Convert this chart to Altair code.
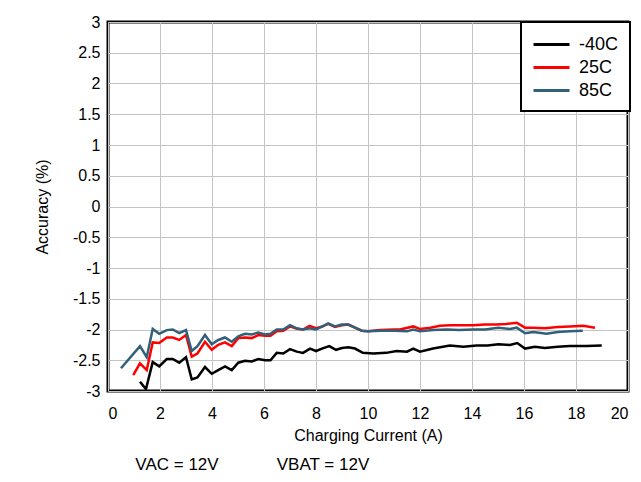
import altair as alt
import pandas as pd

# -40C series
x_m40 = [1.23, 1.46, 1.72, 1.97, 2.26, 2.49, 2.74, 3.0, 3.22, 3.44, 3.73, 3.99, 4.24, 4.5, 4.76,
         5.01, 5.27, 5.53, 5.78, 6.04, 6.25, 6.49, 6.74, 7.0, 7.26, 7.5, 7.77, 8.0, 8.23, 8.51,
         8.77, 9.0, 9.24, 9.5, 9.8, 10.2, 10.7, 11.1, 11.5, 11.74, 12.0, 12.5, 13.15, 13.67,
         14.18, 14.6, 15.01, 15.46, 15.74, 16.04, 16.42, 16.8, 17.3, 17.77, 18.41, 18.99]
y_m40 = [-2.85, -2.97, -2.53, -2.6, -2.48, -2.48, -2.54, -2.45, -2.81, -2.78, -2.61, -2.72, -2.66,
         -2.6, -2.66, -2.54, -2.51, -2.52, -2.48, -2.5, -2.5, -2.38, -2.39, -2.32, -2.36, -2.38,
         -2.31, -2.35, -2.31, -2.27, -2.33, -2.3, -2.29, -2.31, -2.38, -2.39, -2.38, -2.35, -2.36,
         -2.31, -2.36, -2.31, -2.26, -2.28, -2.26, -2.26, -2.24, -2.25, -2.22, -2.31, -2.28, -2.3,
         -2.28, -2.27, -2.27, -2.26]

# 25C series
x_25 = [0.97, 1.23, 1.49, 1.72, 1.97, 2.26, 2.49, 2.74, 3.0, 3.22, 3.44, 3.73, 3.99, 4.24, 4.5,
        4.76, 5.01, 5.27, 5.53, 5.78, 6.04, 6.25, 6.49, 6.74, 7.0, 7.26, 7.5, 7.75, 8.0, 8.25,
        8.47, 8.73, 8.99, 9.24, 9.5, 9.76, 10.0, 10.46, 11.0, 11.23, 11.74, 11.99, 12.4, 12.77,
        13.15, 13.6, 14.05, 14.5, 14.95, 15.3, 15.72, 16.04, 16.36, 16.8, 17.3, 17.77, 18.28, 18.73]
y_25 = [-2.74, -2.55, -2.66, -2.21, -2.22, -2.13, -2.13, -2.17, -2.09, -2.44, -2.39, -2.2, -2.33,
        -2.25, -2.21, -2.27, -2.14, -2.13, -2.14, -2.09, -2.1, -2.1, -2.03, -2.02, -1.95, -1.99,
        -2.0, -1.94, -1.98, -1.95, -1.91, -1.96, -1.93, -1.92, -1.97, -2.02, -2.03, -2.01, -2.0,
        -2.0, -1.95, -1.99, -1.97, -1.94, -1.93, -1.93, -1.93, -1.92, -1.92, -1.91, -1.89, -1.97,
        -1.97, -1.98, -1.96, -1.95, -1.94, -1.97]

# 85C series
x_85 = [0.5, 1.23, 1.49, 1.72, 1.97, 2.26, 2.49, 2.74, 3.0, 3.22, 3.44, 3.73, 3.99, 4.24, 4.5,
        4.76, 5.01, 5.27, 5.53, 5.78, 6.04, 6.25, 6.49, 6.74, 7.0, 7.26, 7.5, 7.75, 8.0, 8.25,
        8.47, 8.73, 8.99, 9.24, 9.5, 9.76, 10.0, 10.5, 11.04, 11.5, 11.74, 12.0, 12.5, 13.03,
        13.5, 14.05, 14.5, 15.01, 15.46, 15.72, 16.04, 16.36, 16.87, 17.3, 17.77, 18.26]
y_85 = [-2.63, -2.27, -2.45, -1.99, -2.07, -2.01, -2.0, -2.06, -2.01, -2.35, -2.27, -2.09, -2.24,
        -2.17, -2.13, -2.2, -2.11, -2.07, -2.08, -2.05, -2.08, -2.07, -2.0, -2.0, -1.93, -1.98,
        -2.0, -1.98, -2.0, -1.95, -1.9, -1.95, -1.92, -1.92, -1.97, -2.02, -2.03, -2.02, -2.02,
        -2.03, -2.0, -2.03, -2.01, -2.0, -2.01, -2.0, -2.0, -1.97, -1.99, -1.97, -2.06, -2.04,
        -2.07, -2.04, -2.03, -2.02]

series_names = ["-40C", "25C", "85C"]
series_colors = ["#000000", "#FF0000", "#31607A"]
x_ticks = list(range(0, 21, 2))
y_ticks = [-3, -2.5, -2, -1.5, -1, -0.5, 0, 0.5, 1, 1.5, 2, 2.5, 3]
note_left = "VAC = 12V"
note_right = "VBAT = 12V"

rows = []
for name, xs, ys in zip(series_names, [x_m40, x_25, x_85], [y_m40, y_25, y_85]):
    for xv, yv in zip(xs, ys):
        rows.append({"current": xv, "accuracy": yv, "series": name})
df = pd.DataFrame(rows)

FONT = "Liberation Sans"

lines = alt.Chart(df).mark_line(strokeWidth=2.5, clip=True).encode(
    x=alt.X("current:Q", scale=alt.Scale(domain=[0, 20], nice=False),
            axis=alt.Axis(values=x_ticks, title="Charging Current (A)", grid=True,
                          ticks=False, domain=False, labelPadding=14, titlePadding=6,
                          labelExpr="'' + datum.value")),
    y=alt.Y("accuracy:Q", scale=alt.Scale(domain=[-3, 3], nice=False),
            axis=alt.Axis(values=y_ticks, title="Accuracy (%)", grid=True,
                          ticks=False, domain=False, labelPadding=8, titlePadding=22,
                          labelExpr="'' + datum.value")),
    color=alt.Color("series:N",
                    scale=alt.Scale(domain=series_names, range=series_colors),
                    legend=alt.Legend(title=None, orient="none", legendX=413, legendY=0,
                                      symbolType="M-1,0H2.6", symbolSize=400,
                                      symbolStrokeWidth=3, labelFontSize=18,
                                      labelFont=FONT, labelOffset=24, padding=11,
                                      rowPadding=2, fillColor="white",
                                      strokeColor="black", labelLimit=200)),
)

note1 = alt.Chart(pd.DataFrame({"t": [note_left]})).mark_text(
    fontSize=17, font=FONT, align="center", baseline="alphabetic", color="black"
).encode(text="t:N", x=alt.value(69), y=alt.value(448))

note2 = alt.Chart(pd.DataFrame({"t": [note_right]})).mark_text(
    fontSize=17, font=FONT, align="center", baseline="alphabetic", color="black"
).encode(text="t:N", x=alt.value(215), y=alt.value(448))

chart = alt.layer(lines, note1, note2).properties(
    width=520, height=369,
    autosize=alt.AutoSizeParams(type="none"),
    padding={"left": 100, "top": 14, "right": 5, "bottom": 83},
).configure_view(
    stroke="black", strokeWidth=3
).configure_axis(
    labelFont=FONT, titleFont=FONT, labelFontSize=16, titleFontSize=16,
    titleFontWeight="normal", labelColor="black", titleColor="black",
    gridColor="#c4c4c4", gridWidth=1
).configure_legend(
    strokeWidth=2
)

chart.save("out.html", embed_options={"renderer": "svg", "actions": False})
